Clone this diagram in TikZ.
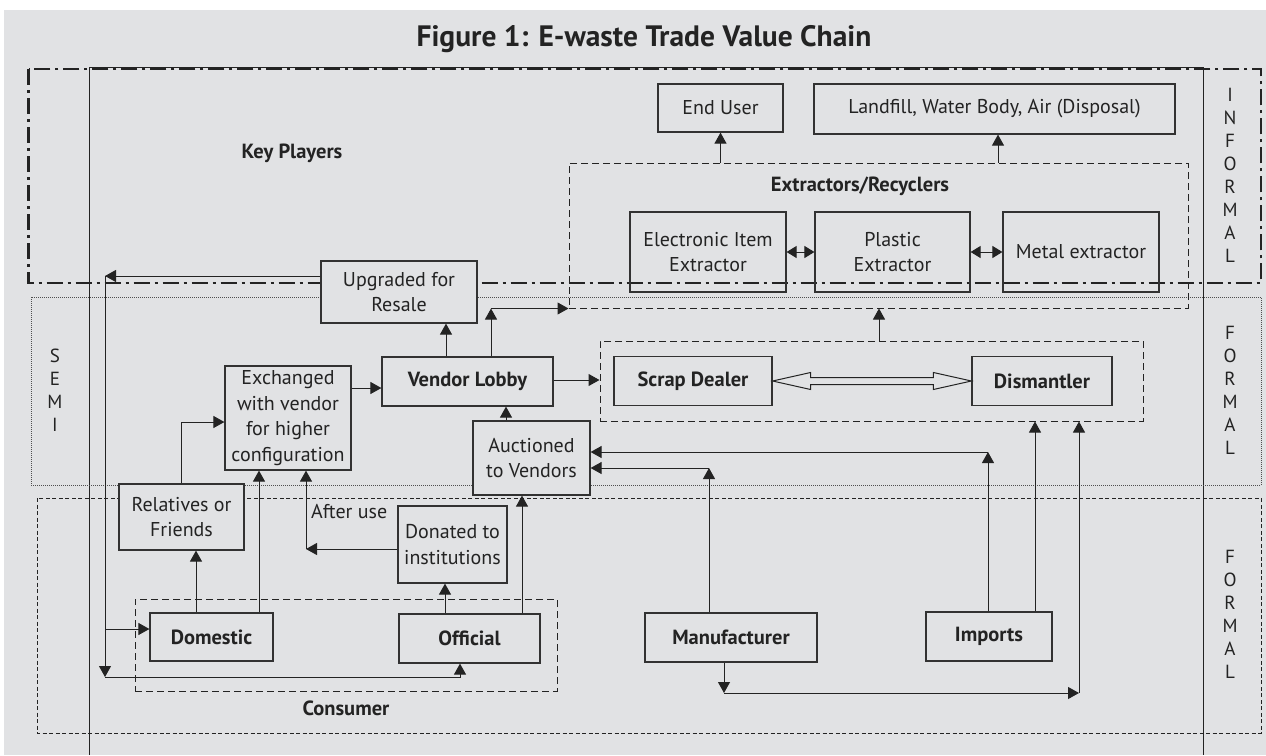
\documentclass[tikz,border=0pt]{standalone}
\usepackage{fontspec}
\setmainfont{PT Sans}
\usetikzlibrary{arrows.meta,calc}
\definecolor{bgc}{RGB}{225,226,228}
\definecolor{linec}{RGB}{35,35,35}
\definecolor{boxc}{RGB}{50,50,50}
\newcommand{\regf}{\fontsize{20}{25.5}\selectfont}
\newcommand{\boldf}{\fontsize{20.5}{25.5}\selectfont\bfseries}
\newcommand{\letf}{\fontsize{19}{23}\selectfont}
\begin{document}
\begin{tikzpicture}[x=1pt,y=-1pt,
  box/.style={draw=boxc,fill=bgc,line width=1.2pt,inner sep=0pt,align=center,font=\regf,text=linec},
  bbox/.style={box,font=\boldf},
  obox/.style={box,fill=none},
  grp/.style={draw=linec,line width=1pt,dash pattern=on 7pt off 4pt,inner sep=0pt},
  arr/.style={draw=linec,line width=1pt,-{Triangle[length=11pt,width=12pt]}},
  dbl/.style={draw=linec,line width=1pt,{Triangle[length=10pt,width=12pt]}-{Triangle[length=10pt,width=12pt]}},
  lbl/.style={font=\boldf,text=linec},
  lett/.style={font=\letf,align=center,text=linec,inner sep=0pt}]
\useasboundingbox (0,0) rectangle (1266,755);
\fill[bgc] (4,10) rectangle (1266,755);
% title
\node[font=\fontsize{29.5}{32}\selectfont\bfseries,text=linec] (title) at (644,39) {Figure 1: E-waste Trade Value Chain};
% page frame
\draw[linec,line width=1pt] (89,755) -- (89,67) -- (1203,67) -- (1203,755);
% regions
\draw[linec,line width=2.4pt,dash pattern=on 16pt off 5pt on 3pt off 5pt] (28.6,69) rectangle (1261,283);
\draw[linec!80,line width=1pt,dash pattern=on 1pt off 1pt] (31,297) rectangle (1261,485);
\draw[linec,line width=0.9pt,dash pattern=on 4pt off 2.5pt] (37,498) rectangle (1261,733);
% region letters
\node[lett] (informal) at (1230,175) {I\\N\\F\\O\\R\\M\\A\\L};
\node[lett] (semi) at (55,390.5) {S\\E\\M\\I};
\node[lett] (formal1) at (1230,390.5) {F\\O\\R\\M\\A\\L};
\node[lett] (formal2) at (1230,614.5) {F\\O\\R\\M\\A\\L};
\node[lbl] (keyp) at (292,153) {Key Players};
% group boxes
\node[grp,minimum width=619pt,minimum height=145pt] (extr) at (878.5,235.5) {};
\node[lbl] (extrl) at (860,186) {Extractors/Recyclers};
\node[grp,minimum width=543pt,minimum height=80pt] (scrapgrp) at (871.5,381) {};
\node[grp,minimum width=422pt,minimum height=92pt] (consumer) at (346,645) {};
\node[lbl] (consl) at (346,708) {Consumer};
% boxes
\node[box,minimum width=125pt,minimum height=48pt] (enduser) at (720.5,108) {End User};
\node[box,minimum width=361pt,minimum height=50pt] (landfill) at (994.5,109) {Landfill, Water Body, Air (Disposal)};
\node[obox,minimum width=156pt,minimum height=80pt] (elec) at (708,252) {Electronic Item\\Extractor};
\node[obox,minimum width=155pt,minimum height=80pt] (plastic) at (892.5,252) {Plastic\\Extractor};
\node[obox,minimum width=156pt,minimum height=80pt] (metal) at (1081,252) {Metal extractor};
\node[box,minimum width=156pt,minimum height=62pt] (upgraded) at (399,292) {Upgraded for\\Resale};
\node[box,minimum width=126pt,minimum height=104pt] (exchanged) at (288,418) {Exchanged\\with vendor\\for higher\\configuration};
\node[bbox,minimum width=171pt,minimum height=49pt] (vendor) at (467.5,381.5) {Vendor Lobby};
\node[bbox,minimum width=158pt,minimum height=49pt] (scrap) at (693,381) {Scrap Dealer};
\node[bbox,minimum width=140pt,minimum height=49pt] (dismantler) at (1042,381) {Dismantler};
\node[box,minimum width=117pt,minimum height=74pt] (auctioned) at (531.5,458) {Auctioned\\to Vendors};
\node[box,minimum width=125pt,minimum height=66pt] (relatives) at (181.5,517) {Relatives or\\Friends};
\node[box,minimum width=109pt,minimum height=77pt] (donated) at (452.5,544.5) {Donated to\\institutions};
\node[bbox,minimum width=123pt,minimum height=48pt] (domestic) at (211.5,637) {Domestic};
\node[bbox,minimum width=141pt,minimum height=49pt] (official) at (469.5,638.5) {Official};
\node[bbox,minimum width=172pt,minimum height=49pt] (manufacturer) at (731,637.5) {Manufacturer};
\node[bbox,minimum width=126pt,minimum height=49pt] (imports) at (989,636.5) {Imports};
\node[font=\regf,text=linec,anchor=west,inner sep=0pt] (afteruse) at (311,512) {After use};
% helper coordinates
\coordinate (lcorner) at (105,276);
\coordinate (lbot) at (105,677);
\coordinate (ldom) at (105,629);
\coordinate (offx) at (460,0);
\coordinate (v1) at (446,0);
\coordinate (v2) at (491,0);
\coordinate (e1) at (0,388);
\coordinate (e2) at (0,380);
\coordinate (s1) at (879,0);
\coordinate (a1) at (506,0);
\coordinate (i1) at (988,0);
\coordinate (c452) at (0,452);
\coordinate (m1) at (709,0);
\coordinate (c468) at (0,468);
\coordinate (i2) at (1035,0);
\coordinate (m2) at (724,693);
\coordinate (m3) at (1079,693);
\coordinate (d1) at (196,0);
\coordinate (r1) at (0,422);
\coordinate (d2) at (259,0);
\coordinate (x306) at (306,549);
\coordinate (o1) at (445,0);
\coordinate (o2) at (522,0);
\coordinate (lf) at (998,0);
% connectors top
\draw[arr] (enduser.south |- extr.north) -- (enduser.south);
\draw[arr] (lf |- extr.north) -- (lf |- landfill.south);
\draw[dbl] (elec.east) -- (plastic.west);
\draw[dbl] (plastic.east) -- (metal.west);
% left loop
\draw[arr] (upgraded.west |- lcorner) -- (lcorner);
\draw[arr] (lcorner) -- (lbot);
\draw[arr] (lbot) -| (offx |- official.south);
\draw[arr] (ldom) -- (ldom -| domestic.west);
% vendor lobby
\draw[arr] (v1 |- vendor.north) -- (v1 |- upgraded.south);
\draw[arr] (v2 |- vendor.north) -- (v2 |- extr.south);
\draw[arr] (v2 |- extr.south) -- (extr.south west);
\draw[arr] (exchanged.east |- e1) -- (vendor.west |- e1);
\draw[arr] (vendor.east |- e2) -- (scrapgrp.west |- e2);
% hollow double arrow
\draw[draw=linec,line width=1pt,fill=bgc,line join=miter]
  (scrap.east) -- ($(scrap.east)+(38,-8.5)$) -- ($(scrap.east)+(38,-3.5)$)
  -- ($(dismantler.west)+(-38,-3.5)$) -- ($(dismantler.west)+(-38,-8.5)$)
  -- (dismantler.west) -- ($(dismantler.west)+(-38,8.5)$) -- ($(dismantler.west)+(-38,3.5)$)
  -- ($(scrap.east)+(38,3.5)$) -- ($(scrap.east)+(38,8.5)$) -- cycle;
\draw[arr] (s1 |- scrapgrp.north) -- (s1 |- extr.south);
\draw[arr] (a1 |- auctioned.north) -- (a1 |- vendor.south);
% imports / manufacturer to auctioned
\draw[arr] (i1 |- imports.north) -- (i1 |- c452);
\draw[arr] (i1 |- c452) -- (auctioned.east |- c452);
\draw[arr] (m1 |- manufacturer.north) -- (m1 |- c468);
\draw[arr] (m1 |- c468) -- (auctioned.east |- c468);
\draw[arr] (i2 |- imports.north) -- (i2 |- scrapgrp.south);
\draw[arr] (m2 |- manufacturer.south) -- (m2);
\draw[arr] (m2) -- (m3);
\draw[arr] (m3) -- (m3 |- scrapgrp.south);
% consumer side
\draw[arr] (d1 |- domestic.north) -- (d1 |- relatives.south);
\draw[arr] (relatives.north) |- (exchanged.west |- r1);
\draw[arr] (d2 |- domestic.north) -- (d2 |- exchanged.south);
\draw[arr] (donated.west |- x306) -- (x306);
\draw[arr] (x306) -- (x306 |- exchanged.south);
\draw[arr] (o1 |- official.north) -- (o1 |- donated.south);
\draw[arr] (o2 |- official.north) -- (o2 |- auctioned.south);
\end{tikzpicture}
\end{document}
